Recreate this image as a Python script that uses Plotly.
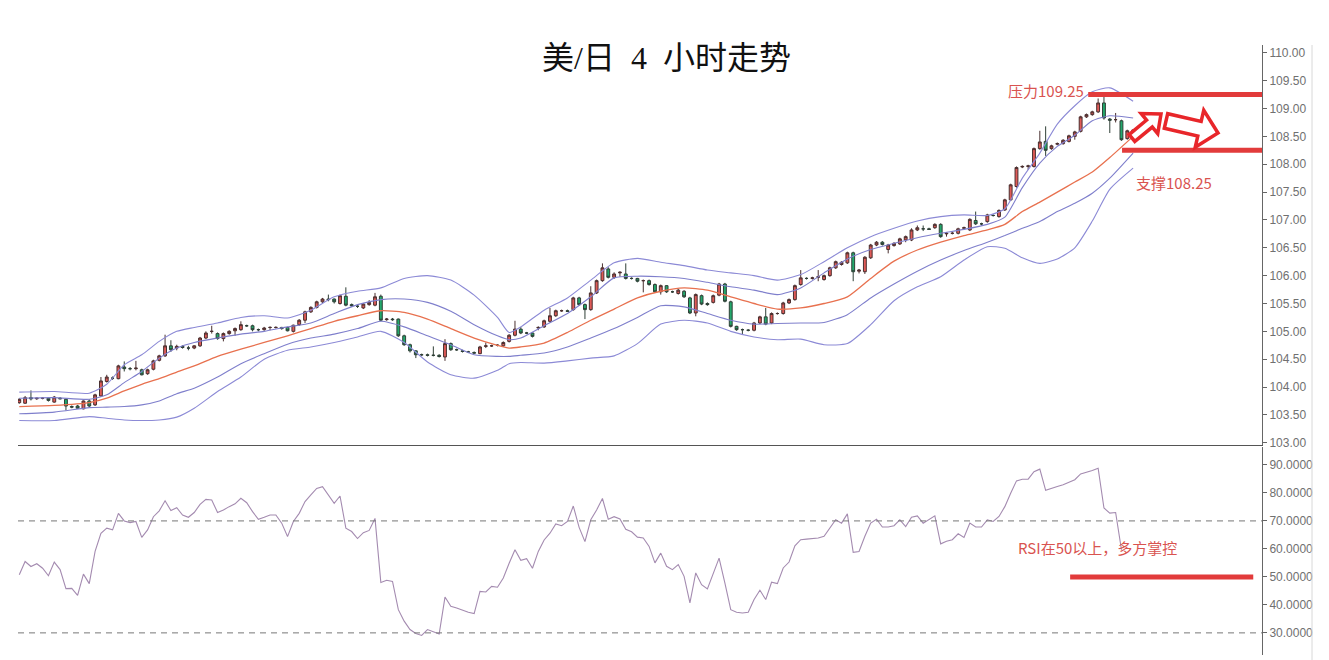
import math
import plotly.graph_objects as go

# ---------------- data ----------------
opens = [103.72,103.71,103.81,103.79,103.80,103.80,103.73,103.80,103.78,103.65,103.66,103.61,103.75,103.68,103.84,104.10,104.16,104.15,104.36,104.33,
         104.33,104.31,104.24,104.32,104.48,104.56,104.74,104.70,104.73,104.70,104.70,104.74,104.88,105.00,104.96,104.87,104.96,105.01,105.03,105.10,
         105.10,105.03,105.03,105.07,105.07,105.07,105.07,105.00,105.12,105.20,105.35,105.43,105.53,105.58,105.58,105.50,105.63,105.48,105.45,105.42,
         105.48,105.47,105.63,105.21,105.22,105.22,104.92,104.76,104.65,104.58,104.58,104.57,104.57,104.54,104.78,104.67,104.65,104.63,104.62,104.60,
         104.73,104.74,104.75,104.74,104.82,104.93,105.04,104.97,104.97,105.06,105.08,105.18,105.28,105.37,105.37,105.39,105.60,105.48,105.39,105.69,
         105.91,106.12,105.97,106.05,106.03,105.95,105.95,105.91,105.91,105.84,105.71,105.82,105.71,105.68,105.72,105.60,105.33,105.64,105.50,105.52,
         105.65,105.85,105.53,105.09,105.03,105.02,105.02,105.15,105.26,105.15,105.32,105.32,105.51,105.57,105.84,105.95,105.95,105.97,105.93,106.00,
         106.14,106.20,106.23,106.41,106.08,106.07,106.32,106.55,106.60,106.47,106.54,106.57,106.64,106.64,106.82,106.84,106.84,106.86,106.92,106.75,
         106.76,106.76,106.85,106.82,106.99,106.93,106.97,107.08,107.06,107.18,107.36,107.60,107.95,107.96,107.96,108.28,108.41,108.28,108.36,108.37,
         108.41,108.50,108.59,108.85,108.89,108.94,109.10,108.81,108.80,108.78,108.46,108.60]
highs = [103.80,103.84,103.94,103.81,103.82,103.81,103.84,103.82,103.80,103.67,103.68,103.76,103.78,103.88,104.18,104.22,104.19,104.40,104.46,104.36,
         104.47,104.33,104.33,104.49,104.58,104.94,104.84,104.76,104.75,104.74,104.75,104.90,105.00,105.10,104.98,104.98,105.02,105.07,105.18,105.12,
         105.12,105.05,105.08,105.09,105.09,105.08,105.08,105.12,105.22,105.37,105.45,105.55,105.60,105.66,105.59,105.66,105.79,105.50,105.47,105.51,
         105.56,105.69,105.66,105.24,105.24,105.23,104.94,104.78,104.66,104.60,104.60,104.73,104.59,104.86,104.80,104.69,104.67,104.65,104.64,104.74,
         104.80,104.76,104.77,104.82,104.95,105.19,105.08,104.99,104.98,105.09,105.21,105.42,105.39,105.39,105.39,105.62,105.62,105.50,105.81,105.93,
         106.22,106.15,106.06,106.08,106.22,105.97,105.96,105.93,105.93,105.86,105.84,105.83,105.73,105.76,105.74,105.62,105.68,105.66,105.52,105.66,
         105.87,105.87,105.55,105.10,105.05,105.04,105.17,105.28,105.42,105.34,105.34,105.53,105.59,105.84,106.10,105.97,105.98,106.10,106.02,106.16,
         106.27,106.26,106.43,106.43,106.12,106.35,106.57,106.62,106.62,106.57,106.60,106.68,106.72,106.85,106.90,106.90,106.86,106.94,106.94,106.78,
         106.79,106.86,106.88,107.03,107.15,106.95,107.11,107.10,107.19,107.38,107.65,107.96,107.98,107.99,108.30,108.60,108.68,108.35,108.39,108.45,
         108.53,108.60,108.87,108.91,108.96,109.18,109.21,108.83,108.92,108.80,108.62,108.63]
lows = [103.70,103.70,103.76,103.77,103.78,103.74,103.72,103.78,103.58,103.62,103.61,103.60,103.64,103.66,103.83,104.08,104.13,104.14,104.28,104.30,
        104.30,104.21,104.22,104.30,104.46,104.54,104.63,104.66,104.69,104.66,104.68,104.72,104.86,104.96,104.85,104.82,104.94,104.92,105.01,105.08,
        105.00,105.00,105.01,105.02,105.05,105.03,105.00,104.98,105.10,105.15,105.33,105.41,105.51,105.54,105.50,105.48,105.45,105.44,105.42,105.40,
        105.46,105.45,105.18,105.19,105.19,104.90,104.74,104.62,104.52,104.56,104.55,104.55,104.53,104.47,104.65,104.65,104.62,104.61,104.60,104.59,
        104.70,104.72,104.73,104.72,104.80,104.91,104.95,104.95,104.89,105.02,105.06,105.16,105.26,105.35,105.35,105.37,105.46,105.22,105.37,105.67,
        105.89,105.95,105.94,105.98,105.93,105.93,105.88,105.70,105.82,105.69,105.66,105.69,105.69,105.66,105.60,105.31,105.27,105.47,105.46,105.50,
        105.63,105.52,105.07,105.01,104.95,105.00,105.00,105.13,105.11,105.13,105.30,105.30,105.49,105.55,105.82,105.93,105.93,105.90,105.91,105.98,
        106.12,106.18,106.21,105.90,106.04,106.03,106.30,106.53,106.54,106.40,106.52,106.55,106.60,106.62,106.80,106.80,106.82,106.84,106.68,106.70,
        106.74,106.74,106.83,106.80,106.91,106.90,106.95,107.06,107.04,107.16,107.34,107.58,107.93,107.90,107.94,108.26,108.15,108.26,108.34,108.35,
        108.39,108.44,108.57,108.83,108.87,108.92,108.80,108.56,108.75,108.42,108.44,108.58]
closes = [103.78,103.81,103.79,103.80,103.80,103.76,103.82,103.79,103.66,103.64,103.62,103.75,103.66,103.86,104.11,104.18,104.16,104.38,104.33,104.33,
          104.34,104.22,104.31,104.47,104.56,104.74,104.67,104.73,104.71,104.70,104.74,104.88,104.97,105.00,104.87,104.96,105.00,105.05,105.12,105.10,
          105.03,105.03,105.06,105.07,105.07,105.05,105.01,105.11,105.20,105.35,105.43,105.53,105.58,105.57,105.53,105.64,105.47,105.46,105.45,105.49,
          105.52,105.62,105.20,105.22,105.21,104.92,104.76,104.65,104.58,104.58,104.57,104.57,104.55,104.78,104.67,104.67,104.64,104.63,104.61,104.72,
          104.74,104.74,104.75,104.80,104.93,105.04,104.97,104.97,104.91,105.07,105.19,105.28,105.37,105.37,105.36,105.60,105.48,105.39,105.69,105.91,
          106.14,105.97,106.03,106.06,105.95,105.95,105.90,105.91,105.84,105.71,105.82,105.71,105.71,105.74,105.62,105.33,105.66,105.49,105.48,105.64,
          105.85,105.54,105.09,105.03,105.03,105.02,105.15,105.26,105.13,105.32,105.32,105.51,105.57,105.82,105.96,105.95,105.96,105.98,106.00,106.14,
          106.25,106.24,106.41,106.07,106.10,106.33,106.55,106.60,106.56,106.55,106.58,106.66,106.70,106.82,106.86,106.84,106.83,106.92,106.70,106.76,
          106.76,106.84,106.86,107.01,106.93,106.93,107.09,107.08,107.17,107.36,107.63,107.94,107.96,107.97,108.28,108.40,108.25,108.33,108.37,108.43,
          108.51,108.58,108.85,108.89,108.94,109.10,108.83,108.79,108.80,108.44,108.60,108.61]

band_idx = [0, 6, 12, 15, 18, 21, 24, 27, 30, 34, 38, 42, 46, 50, 54, 58, 62, 66, 70, 74,
            78, 82, 84, 86, 90, 94, 98, 102, 106, 110, 114, 118, 122, 126, 130, 134, 138, 142, 146, 150,
            154, 158, 162, 166, 169, 172, 175, 178, 181, 184, 187, 191]
band_upper2 = [103.91,103.92,103.89,104.05,104.40,104.58,104.82,105.00,105.07,105.15,105.25,105.28,105.24,105.38,105.62,105.72,105.78,105.95,106.00,105.92,
               105.65,105.25,104.98,105.08,105.38,105.60,105.92,106.23,106.31,106.24,106.18,106.10,106.05,106.00,105.92,106.02,106.25,106.50,106.70,106.85,
               106.98,107.06,107.09,107.08,107.20,107.75,108.20,108.72,109.05,109.30,109.37,109.13]
band_upper1 = [103.80,103.81,103.78,103.86,104.08,104.28,104.52,104.70,104.80,104.88,104.95,105.00,105.08,105.15,105.32,105.48,105.57,105.58,105.52,105.36,
               105.12,104.92,104.85,104.88,105.10,105.32,105.62,105.96,105.99,105.98,105.95,105.88,105.80,105.74,105.66,105.78,106.05,106.30,106.47,106.58,
               106.68,106.76,106.83,106.92,107.05,107.58,108.02,108.32,108.52,108.78,108.87,108.83]
band_mid = [103.65,103.67,103.72,103.80,103.93,104.05,104.15,104.27,104.38,104.55,104.68,104.80,104.92,105.05,105.18,105.28,105.37,105.34,105.22,105.05,
            104.88,104.75,104.70,104.72,104.79,104.98,105.20,105.40,105.60,105.72,105.78,105.74,105.62,105.50,105.40,105.42,105.50,105.62,105.95,106.26,
            106.46,106.60,106.72,106.82,106.92,107.15,107.32,107.50,107.68,107.86,108.12,108.50]
band_lower1 = [103.52,103.55,103.63,103.64,103.65,103.68,103.75,103.88,103.98,104.18,104.42,104.60,104.77,104.88,104.95,105.05,105.18,105.08,104.92,104.76,
               104.58,104.55,104.55,104.57,104.61,104.72,104.88,105.05,105.25,105.46,105.44,105.32,105.20,105.13,105.14,105.15,105.16,105.30,105.60,105.85,
               106.08,106.28,106.45,106.60,106.72,106.85,106.97,107.15,107.30,107.48,107.75,108.20]
band_lower2 = [103.40,103.40,103.47,103.44,103.41,103.40,103.41,103.46,103.62,103.92,104.18,104.50,104.66,104.72,104.80,104.90,105.00,104.80,104.45,104.22,
               104.16,104.30,104.42,104.44,104.43,104.47,104.52,104.56,104.78,105.13,105.20,105.15,105.00,104.90,104.85,104.86,104.76,104.78,105.12,105.55,
               105.80,105.98,106.28,106.52,106.49,106.32,106.22,106.30,106.50,106.98,107.55,107.93]

rsi = [50.8,55.5,53.7,54.7,53.1,50.4,55.3,52.6,45.8,45.9,43.4,51.0,47.6,59.1,65.6,67.4,66.8,72.7,70.0,69.4,
       69.8,64.1,66.8,71.5,73.6,77.2,73.7,74.7,72.1,71.3,73.0,75.9,77.7,77.5,73.0,73.9,75.1,76.1,78.1,76.5,
       73.3,70.6,71.3,72.1,72.1,69.2,64.4,69.8,72.7,76.9,79.3,81.6,82.2,79.3,76.3,78.9,67.4,66.2,63.7,65.8,
       66.6,70.9,48.0,48.8,48.4,38.3,34.2,31.2,29.8,29.1,31.2,30.4,29.6,42.8,39.5,38.9,38.1,37.4,36.9,44.8,
       44.6,46.6,46.3,49.6,54.9,59.7,55.9,56.5,53.1,59.1,63.2,65.6,68.9,68.3,69.8,75.3,67.7,62.6,70.4,73.9,
       78.0,70.6,71.5,70.7,67.0,66.1,
       64.2,63.9,60.9,55.0,58.5,53.8,52.6,54.4,50.2,40.7,
       51.4,47.2,45.7,51.4,56.7,47.8,38.3,37.4,37.1,37.4,41.9,45.2,41.9,48.1,47.6,53.2,55.3,61.1,63.3,63.5,
       63.6,63.9,64.5,67.4,70.4,69.2,72.5,58.8,59.1,64.5,69.2,70.6,67.8,67.8,68.3,70.4,68.0,71.3,71.8,69.2,
       70.6,71.8,61.8,62.7,63.3,65.4,64.1,69.2,67.8,67.8,70.4,69.8,71.6,75.1,79.9,84.3,84.9,84.9,87.6,88.5,
       80.9,81.7,82.3,82.9,83.7,84.7,86.8,87.3,88.0,88.8,74.6,72.8,73.0,59.7]

price_ticks = [103.0, 103.5, 104.0, 104.5, 105.0, 105.5, 106.0, 106.5, 107.0, 107.5, 108.0, 108.5, 109.0, 109.5, 110.0]
rsi_ticks = [30, 40, 50, 60, 70, 80, 90]
rsi_guides = [70, 30]
levels = [109.25, 108.25]
level_labels = ["压力109.25", "支撑108.25"]
rsi_level = 50
rsi_note = "RSI在50以上，多方掌控"
title_text = "美/日\u20024\u2002小时走势"

# ---------------- geometry ----------------
# the page body has an 8px default margin, so the figure is shifted by OFF
OFF = 8
WIN_W, WIN_H = 1329, 660
W, H = WIN_W - OFF, WIN_H - OFF
PL, PR = 18, 1262            # plot area in window pixels
X_RANGE = [-0.22, 213.1]
RED = "#e23b3b"
TXT_RED = "#d9534f"


def paper(x, y):
    """window pixel -> paper coordinates"""
    return (x - PL) / (PR - PL), (H - (y - OFF)) / H


def ydom(top, bottom):
    return [(H - (bottom - OFF)) / H, (H - (top - OFF)) / H]


def arrow_path(tail, tip, w, hw, hl):
    tx, ty = tail
    hx, hy = tip
    dx, dy = hx - tx, hy - ty
    d = math.hypot(dx, dy)
    ux, uy = dx / d, dy / d
    nx, ny = -uy, ux
    kx, ky = hx - ux * hl, hy - uy * hl
    pts = [(tx + nx * w, ty + ny * w), (kx + nx * w, ky + ny * w), (kx + nx * hw, ky + ny * hw),
           (hx, hy), (kx - nx * hw, ky - ny * hw), (kx - nx * w, ky - ny * w), (tx - nx * w, ty - ny * w)]
    pp = [paper(x, y) for x, y in pts]
    return "M " + " L ".join(f"{a:.5f},{b:.5f}" for a, b in pp) + " Z"


idx = list(range(len(closes)))
fig = go.Figure()

band_style = [
    (band_upper2, "#8c8ad6", 1.1),
    (band_upper1, "#7f7fcc", 1.1),
    (band_mid, "#e8714f", 1.3),
    (band_lower1, "#7f7fcc", 1.1),
    (band_lower2, "#8c8ad6", 1.1),
]
for vals, col, lw in band_style:
    fig.add_trace(go.Scatter(x=band_idx, y=vals, mode="lines", xaxis="x", yaxis="y",
                             line=dict(color=col, width=lw, shape="spline", smoothing=0.6),
                             hoverinfo="skip", showlegend=False))

fig.add_trace(go.Candlestick(
    x=idx, open=opens, high=highs, low=lows, close=closes, xaxis="x", yaxis="y",
    increasing=dict(line=dict(color="#4a3030", width=1), fillcolor="#e05a57"),
    decreasing=dict(line=dict(color="#2f3f36", width=1), fillcolor="#22a96c"),
    whiskerwidth=0, showlegend=False, hoverinfo="skip"))

fig.add_trace(go.Scatter(x=idx[:len(rsi)], y=rsi, mode="lines", xaxis="x2", yaxis="y2",
                         line=dict(color="#a48bb0", width=1.1), hoverinfo="skip", showlegend=False))

shapes = []
level_starts = [183.3, 189.1]
for lv, xs in zip(levels, level_starts):
    shapes.append(dict(type="line", xref="x", yref="y", x0=xs, x1=X_RANGE[1], y0=lv, y1=lv,
                       line=dict(color=RED, width=5)))
shapes.append(dict(type="line", xref="x2", yref="y2", x0=180.2, x1=211.6, y0=rsi_level, y1=rsi_level,
                   line=dict(color=RED, width=5)))
for g in rsi_guides:
    shapes.append(dict(type="line", xref="x2 domain", yref="y2", x0=0, x1=1, y0=g, y1=g,
                       line=dict(color="#777777", width=1, dash="6px,5px")))
vx, vtop = paper(1312, 45)
shapes.append(dict(type="line", xref="paper", yref="paper", x0=vx, x1=vx, y0=0, y1=vtop,
                   line=dict(color="#d8d8d8", width=1)))
shapes.append(dict(type="path", xref="paper", yref="paper",
                   path=arrow_path((1132, 138), (1161, 114), 4.5, 13, 15),
                   line=dict(color="#e8262a", width=3.5), fillcolor="white"))
shapes.append(dict(type="path", xref="paper", yref="paper",
                   path=arrow_path((1166, 121), (1218, 133), 7.5, 19, 19),
                   line=dict(color="#e8262a", width=3.5), fillcolor="white"))

ann = []
tx, ty = paper(667, 58)
ann.append(dict(text=title_text, xref="paper", yref="paper", x=tx, y=ty, xanchor="center", yanchor="middle",
                showarrow=False, font=dict(family="Liberation Serif, Noto Sans CJK SC", size=32, color="#111111")))
ax, ay = paper(1086, 90)
ann.append(dict(text=level_labels[0], xref="paper", yref="paper", x=ax, y=ay, xanchor="right", yanchor="middle",
                showarrow=False, font=dict(family="Noto Sans CJK SC", size=15, color=TXT_RED)))
ax, ay = paper(1134, 182)
ann.append(dict(text=level_labels[1], xref="paper", yref="paper", x=ax, y=ay, xanchor="left", yanchor="middle",
                showarrow=False, font=dict(family="Noto Sans CJK SC", size=15, color=TXT_RED)))
ax, ay = paper(1016, 547)
ann.append(dict(text=rsi_note, xref="paper", yref="paper", x=ax, y=ay, xanchor="left", yanchor="middle",
                showarrow=False, font=dict(family="Noto Sans CJK SC", size=15, color=TXT_RED)))

tick_font = dict(family="Liberation Sans, Arial", size=12, color="#707070")
fig.update_layout(
    width=W, height=H,
    margin=dict(l=PL - OFF, r=W - (PR - OFF), t=0, b=0, autoexpand=False),
    paper_bgcolor="white", plot_bgcolor="white",
    showlegend=False,
    xaxis=dict(domain=[0, 1], range=X_RANGE, anchor="y", showticklabels=False, showgrid=False, zeroline=False,
               showline=True, linecolor="#555555", linewidth=1, ticks="", rangeslider=dict(visible=False), fixedrange=True),
    yaxis=dict(domain=ydom(45, 445), range=[102.96, 110.14], side="right", anchor="x",
               tickvals=price_ticks, tickformat=".2f", showgrid=False, zeroline=False, showline=True,
               linecolor="#666666", ticks="outside", ticklen=4, tickcolor="#666666", tickfont=tick_font),
    xaxis2=dict(domain=[0, 1], range=X_RANGE, anchor="y2", matches="x", showticklabels=False, showgrid=False,
                zeroline=False, showline=False, ticks=""),
    yaxis2=dict(domain=ydom(447, 655), range=[22.1, 96.4], side="right", anchor="x2",
                tickvals=rsi_ticks, tickformat=".4f", showgrid=False, zeroline=False, showline=True,
                linecolor="#666666", ticks="outside", ticklen=4, tickcolor="#666666", tickfont=tick_font),
    shapes=shapes,
    annotations=ann,
)

fig.write_html("out.html")
